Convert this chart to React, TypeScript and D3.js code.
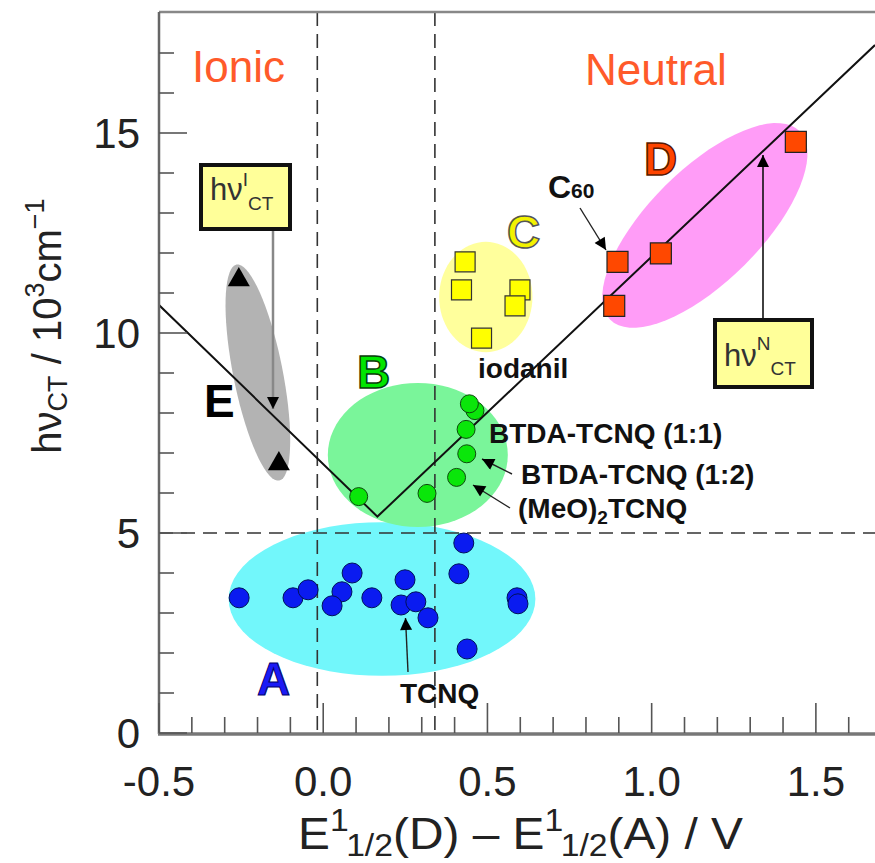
import React from "react";
import * as d3 from "d3";

// x: E1/2(D) - E1/2(A) in V, y: hv_CT in 10^3 cm^-1
const groupA = [
  [-0.256, 3.38], [-0.092, 3.38], [-0.046, 3.58], [0.088, 4.0], [0.057, 3.53],
  [0.027, 3.18], [0.148, 3.38], [0.249, 3.83], [0.237, 3.2], [0.282, 3.28],
  [0.319, 2.88], [0.428, 4.75], [0.413, 3.98], [0.438, 2.1], [0.59, 3.38], [0.593, 3.23],
];
const groupB = [
  [0.108, 5.91], [0.316, 5.99], [0.406, 6.39], [0.437, 6.98], [0.435, 7.59],
  [0.462, 8.06], [0.445, 8.23],
];
const groupC = [[0.432, 11.78], [0.421, 11.08], [0.599, 11.08], [0.584, 10.68], [0.482, 9.87]];
const groupD = [[0.896, 11.78], [0.886, 10.68], [1.028, 11.99], [1.439, 14.78]];
const groupE = [[-0.257, 11.33], [-0.135, 6.73]];

// V-shaped guide: ionic branch / neutral branch
const vLine = [[-0.5, 10.7], [0.165, 5.41], [1.68, 17.2]];
const xDashed = [-0.018, 0.34];
const yDashed = [5];

// regions: centre, end of one semi-axis, end of the other (data coords)
const regionA = [[0.179, 3.35], [0.646, 3.35], [0.179, 5.27]];
const regionB = [[0.288, 6.95], [0.562, 6.95], [0.288, 8.75]];
const regionC = [[0.495, 10.9], [0.495, 12.28], [0.637, 10.9]];
const regionD = [[1.162, 12.69], [1.45, 15.05], [1.283, 11.7]];
const regionE = [[-0.199, 9.01], [-0.264, 11.71], [-0.125, 9.13]];

const xTicks = d3.range(-5, 17);
const yTicks = d3.range(0, 18);
const xLabels = ["-0.5", "0.0", "0.5", "1.0", "1.5"];
const yLabels = ["0", "5", "10", "15"];

const W = 875;
const H = 863;
const FONT = "'Liberation Sans', Arial, Helvetica, sans-serif";

const x = d3.scaleLinear().domain([-0.5, 1.68]).range([159, 875]);
const y = d3.scaleLinear().domain([0, 18]).range([733, 13]);

const line = d3.line<number[]>().x((d) => x(d[0])).y((d) => y(d[1]));

function ellipsePath(r: number[][]) {
  const [c, u, v] = r;
  const pts = d3.range(0, 73).map((i) => {
    const t = (i / 72) * Math.PI * 2;
    return [
      c[0] + (u[0] - c[0]) * Math.cos(t) + (v[0] - c[0]) * Math.sin(t),
      c[1] + (u[1] - c[1]) * Math.cos(t) + (v[1] - c[1]) * Math.sin(t),
    ];
  });
  return line(pts) + "Z";
}

const square = (s: number) => d3.symbol(d3.symbolSquare, s * s)();
const triangle = d3.symbol(d3.symbolTriangle, 210)();

export default function App() {
  return (
    <svg
      width={W}
      height={H}
      style={{ position: "absolute", left: 0, top: 0, background: "#fff" }}
      fontFamily={FONT}
    >
      <defs>
        <marker id="headBig" viewBox="0 0 10 10" refX="10" refY="5" markerWidth="14" markerHeight="12" orient="auto" markerUnits="userSpaceOnUse">
          <path d="M0,0 L10,5 L0,10 Z" fill="#000" />
        </marker>
        <clipPath id="plot">
          <rect x={159} y={12} width={716} height={721} />
        </clipPath>
      </defs>

      {/* regions */}
      <path d={ellipsePath(regionE)} fill="#b3b3b3" />
      <path d={ellipsePath(regionA)} fill="#72f7fb" />
      <path d={ellipsePath(regionB)} fill="#7af59a" />
      <path d={ellipsePath(regionC)} fill="#ffff9c" />
      <path d={ellipsePath(regionD)} fill="#ff9cf7" />

      {/* dashed guides */}
      {xDashed.map((v, i) => (
        <line key={"xd" + i} x1={x(v)} x2={x(v)} y1={12} y2={733} stroke="#333" strokeWidth={1.6} strokeDasharray="14,8" />
      ))}
      {yDashed.map((v, i) => (
        <line key={"yd" + i} x1={159} x2={875} y1={y(v)} y2={y(v)} stroke="#333" strokeWidth={1.6} strokeDasharray="14,8" />
      ))}

      <path d={line(vLine) || ""} fill="none" stroke="#111" strokeWidth={2} clipPath="url(#plot)" />

      {/* axes frame */}
      <line x1={159} x2={875} y1={12} y2={12} stroke="#888" strokeWidth={2.5} />
      <line x1={159} x2={159} y1={12} y2={734} stroke="#666" strokeWidth={2.5} />
      <line x1={158} x2={875} y1={734} y2={734} stroke="#777" strokeWidth={3.5} />
      {xTicks.map((i) => (
        <line key={"xt" + i} x1={x(i / 10)} x2={x(i / 10)} y1={733} y2={733 - (i % 5 === 0 ? 30 : 16)} stroke="#555" strokeWidth={1.6} />
      ))}
      {yTicks.map((i) => (
        <line key={"yt" + i} x1={159} x2={159 + (i % 5 === 0 ? 28 : 15)} y1={y(i)} y2={y(i)} stroke="#555" strokeWidth={1.6} />
      ))}
      {xLabels.map((t, i) => (
        <text key={"xl" + t} x={x(-0.5 + i * 0.5)} y={796} textAnchor="middle" fontSize={42} fill="#222">{t}</text>
      ))}
      {yLabels.map((t, i) => (
        <text key={"yl" + t} x={140} y={y(i * 5) + 15} textAnchor="end" fontSize={42} fill="#222">{t}</text>
      ))}

      {/* axis titles */}
      <text x={298} y={849} fontSize={44} fill="#222" textLength={445} lengthAdjust="spacingAndGlyphs">
        E<tspan fontSize={31} dy={-18}>1</tspan><tspan fontSize={31} dy={25}>1/2</tspan>
        <tspan dy={-7}>(D) – E</tspan><tspan fontSize={31} dy={-18}>1</tspan><tspan fontSize={31} dy={25}>1/2</tspan>
        <tspan dy={-7}>(A) / V</tspan>
      </text>
      <text transform="translate(61,326) rotate(-90)" textAnchor="middle" fontSize={40} fill="#222">
        hν<tspan fontSize={27} dy={6}>CT</tspan><tspan dy={-6}> / 10</tspan><tspan fontSize={27} dy={-17}>3</tspan>
        <tspan dy={17}>cm</tspan><tspan fontSize={27} dy={-17}>−1</tspan>
      </text>

      {/* data points */}
      {groupA.map((d, i) => (
        <circle key={"a" + i} cx={x(d[0])} cy={y(d[1])} r={10} fill="#0a1bf0" stroke="#00105a" strokeWidth={1} />
      ))}
      {groupB.map((d, i) => (
        <circle key={"b" + i} cx={x(d[0])} cy={y(d[1])} r={9} fill="#0ae60a" stroke="#0d4a0d" strokeWidth={1} />
      ))}
      {groupC.map((d, i) => (
        <path key={"c" + i} d={square(20) || ""} transform={`translate(${x(d[0])},${y(d[1])})`} fill="#ffff00" stroke="#333" strokeWidth={1.2} />
      ))}
      {groupD.map((d, i) => (
        <path key={"d" + i} d={square(21) || ""} transform={`translate(${x(d[0])},${y(d[1])})`} fill="#ff4800" stroke="#222" strokeWidth={1.2} />
      ))}
      {groupE.map((d, i) => (
        <path key={"e" + i} d={triangle || ""} transform={`translate(${x(d[0])},${y(d[1])})`} fill="#000" />
      ))}

      {/* region labels */}
      <text x={192} y={82} fontSize={44} fill="#ff5a2a">Ionic</text>
      <text x={585} y={85} fontSize={44} fill="#ff5a2a">Neutral</text>
      <text x={257} y={695} fontSize={46} fontWeight="bold" fill="#1b1bf5" stroke="#00006a" strokeWidth={1}>A</text>
      <text x={357} y={388} fontSize={46} fontWeight="bold" fill="#00e600" stroke="#0b3d0b" strokeWidth={1.5}>B</text>
      <text x={507} y={248} fontSize={46} fontWeight="bold" fill="#f2f200" stroke="#555" strokeWidth={1.5}>C</text>
      <text x={644} y={175} fontSize={46} fontWeight="bold" fill="#ff4400" stroke="#5a1a00" strokeWidth={1.5}>D</text>
      <text x={204} y={417} fontSize={46} fontWeight="bold" fill="#000">E</text>

      {/* compound labels */}
      <g fontWeight="bold" fill="#111" fontSize={28}>
        <text x={548} y={198} fontSize={32}>C<tspan fontSize={21}>60</tspan></text>
        <text x={478} y={378}>iodanil</text>
        <text x={489} y={443}>BTDA-TCNQ (1:1)</text>
        <text x={521} y={484}>BTDA-TCNQ (1:2)</text>
        <text x={518} y={518}>(MeO)<tspan fontSize={19} dy={6}>2</tspan><tspan dy={-6}>TCNQ</tspan></text>
        <text x={400} y={703}>TCNQ</text>
      </g>

      {/* pointer arrows */}
      <g stroke="#222" strokeWidth={1.4}>
        <line x1={580} y1={208} x2={606} y2={250} markerEnd="url(#headBig)" />
        <line x1={512} y1={474} x2={482} y2={459} markerEnd="url(#headBig)" />
        <line x1={510} y1={508} x2={473} y2={485} markerEnd="url(#headBig)" />
        <line x1={408} y1={672} x2={405.5} y2={618} markerEnd="url(#headBig)" />
      </g>

      {/* hv boxes */}
      <line x1={273} y1={231} x2={273} y2={y(8.1)} stroke="#888" strokeWidth={2.5} markerEnd="url(#headBig)" />
      <rect x={201} y={165} width={89} height={64} fill="#ffff99" stroke="#111" strokeWidth={4} />
      <text x={210} y={200} fontSize={31} fill="#333">
        hν<tspan fontSize={19} dy={-14}>I</tspan><tspan fontSize={19} dy={24}>CT</tspan>
      </text>
      <line x1={763} y1={318} x2={763} y2={y(14.45)} stroke="#111" strokeWidth={1.6} markerEnd="url(#headBig)" />
      <rect x={715} y={320} width={97} height={67} fill="#ffff99" stroke="#111" strokeWidth={4} />
      <text x={724} y={366} fontSize={31} fill="#333">
        hν<tspan fontSize={19} dy={-16}>N</tspan><tspan fontSize={19} dy={25}>CT</tspan>
      </text>
    </svg>
  );
}
